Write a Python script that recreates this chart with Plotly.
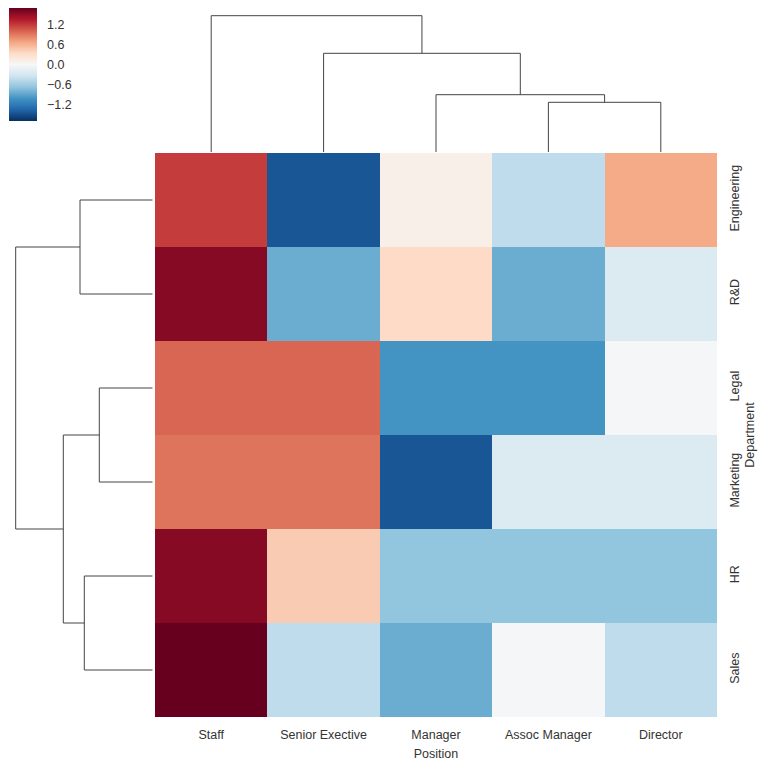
import plotly.graph_objects as go

positions = ["Staff", "Senior Exective", "Manager", "Assoc Manager", "Director"]
departments = ["Engineering", "R&D", "Legal", "Marketing", "HR", "Sales"]

values = [
    [1.19, -1.46, 0.10, -0.44, 0.65],
    [1.56, -0.85, 0.34, -0.85, -0.24],
    [0.99, 0.99, -1.02, -1.02, -0.02],
    [0.92, 0.92, -1.46, -0.24, -0.24],
    [1.56, 0.44, -0.68, -0.68, -0.68],
    [1.70, -0.44, -0.85, -0.02, -0.44],
]

# linkage (scipy style): [cluster a, cluster b, distance]
col_linkage = [[3, 4, 49.7], [2, 5, 57.3], [1, 6, 98.7], [0, 7, 136.3]]
row_linkage = [[2, 3, 53.4], [4, 5, 68.4], [0, 1, 72.7], [6, 7, 89.4], [8, 9, 137.0]]

cbar_ticks = [-1.2, -0.6, 0.0, 0.6, 1.2]
cbar_text = ["\u22121.2", "\u22120.6", "0.0", "0.6", "1.2"]

rdbu = ["#053061", "#2166ac", "#4393c3", "#92c5de", "#d1e5f0", "#f7f7f7",
        "#fddbc7", "#f4a582", "#d6604d", "#b2182b", "#67001f"]
colorscale = [[i / (len(rdbu) - 1), c] for i, c in enumerate(rdbu)]

W = H = 768
hx0, hx1 = 155, 717
hy0, hy1 = 153, 717
dend_top = 152.0
dend_left = 152.7


def dendro_segments(n, linkage):
    pos = {i: i + 0.5 for i in range(n)}
    hgt = {i: 0.0 for i in range(n)}
    xs, ys = [], []
    k = n
    for a, b, d in linkage:
        pa, pb = pos[a], pos[b]
        ha, hb = hgt[a], hgt[b]
        xs += [pa, pa, pb, pb, None]
        ys += [ha, d, d, hb, None]
        pos[k] = (pa + pb) / 2
        hgt[k] = d
        k += 1
    return xs, ys


fig = go.Figure()

font = dict(family="Liberation Sans, Arial, sans-serif", size=12.5, color="#333333")

fig.add_trace(go.Heatmap(
    z=values, x=positions, y=departments,
    colorscale=colorscale, zmin=-1.7, zmax=1.7,
    xaxis="x", yaxis="y",
    colorbar=dict(
        x=9 / W, xanchor="left", y=1 - 8 / H, yanchor="top",
        thickness=28, thicknessmode="pixels",
        len=113, lenmode="pixels",
        outlinewidth=0, ticks="outside", ticklen=8, tickwidth=1,
        tickcolor="rgba(255,255,255,0)",
        tickvals=cbar_ticks, ticktext=cbar_text,
        tickfont=font,
        xpad=0, ypad=0,
    ),
))

cx, cy = dendro_segments(len(positions), col_linkage)
fig.add_trace(go.Scatter(x=cx, y=cy, mode="lines", line=dict(color="#444444", width=1),
                         xaxis="x2", yaxis="y2", showlegend=False, hoverinfo="skip"))
rx, ry = dendro_segments(len(departments), row_linkage)
fig.add_trace(go.Scatter(x=ry, y=rx, mode="lines", line=dict(color="#444444", width=1),
                         xaxis="x3", yaxis="y3", showlegend=False, hoverinfo="skip"))

hide = dict(showgrid=False, zeroline=False, showticklabels=False, ticks="", showline=False)

fig.update_layout(
    width=W, height=H,
    margin=dict(l=0, r=0, t=0, b=0),
    paper_bgcolor="white", plot_bgcolor="white",
    font=font,
    xaxis=dict(domain=[hx0 / W, hx1 / W], anchor="y", showgrid=False, zeroline=False,
               ticks="", ticklabelstandoff=8, tickfont=font,
               title=dict(text="Position", font=font, standoff=8)),
    yaxis=dict(domain=[1 - hy1 / H, 1 - hy0 / H], anchor="x", side="right",
               autorange="reversed", showgrid=False, zeroline=False,
               ticks="", tickangle=-90, ticklabelstandoff=8, tickfont=font,
               title=dict(text="Department", font=font, standoff=4)),
    xaxis2=dict(domain=[hx0 / W, hx1 / W], anchor="y2", range=[0, len(positions)], **hide),
    yaxis2=dict(domain=[1 - dend_top / H, 1], anchor="x2", range=[0, dend_top], **hide),
    xaxis3=dict(domain=[0, dend_left / W], anchor="y3", range=[dend_left, 0], **hide),
    yaxis3=dict(domain=[1 - hy1 / H, 1 - hy0 / H], anchor="x3",
                range=[len(departments), 0], **hide),
)

fig.write_html("out.html")
